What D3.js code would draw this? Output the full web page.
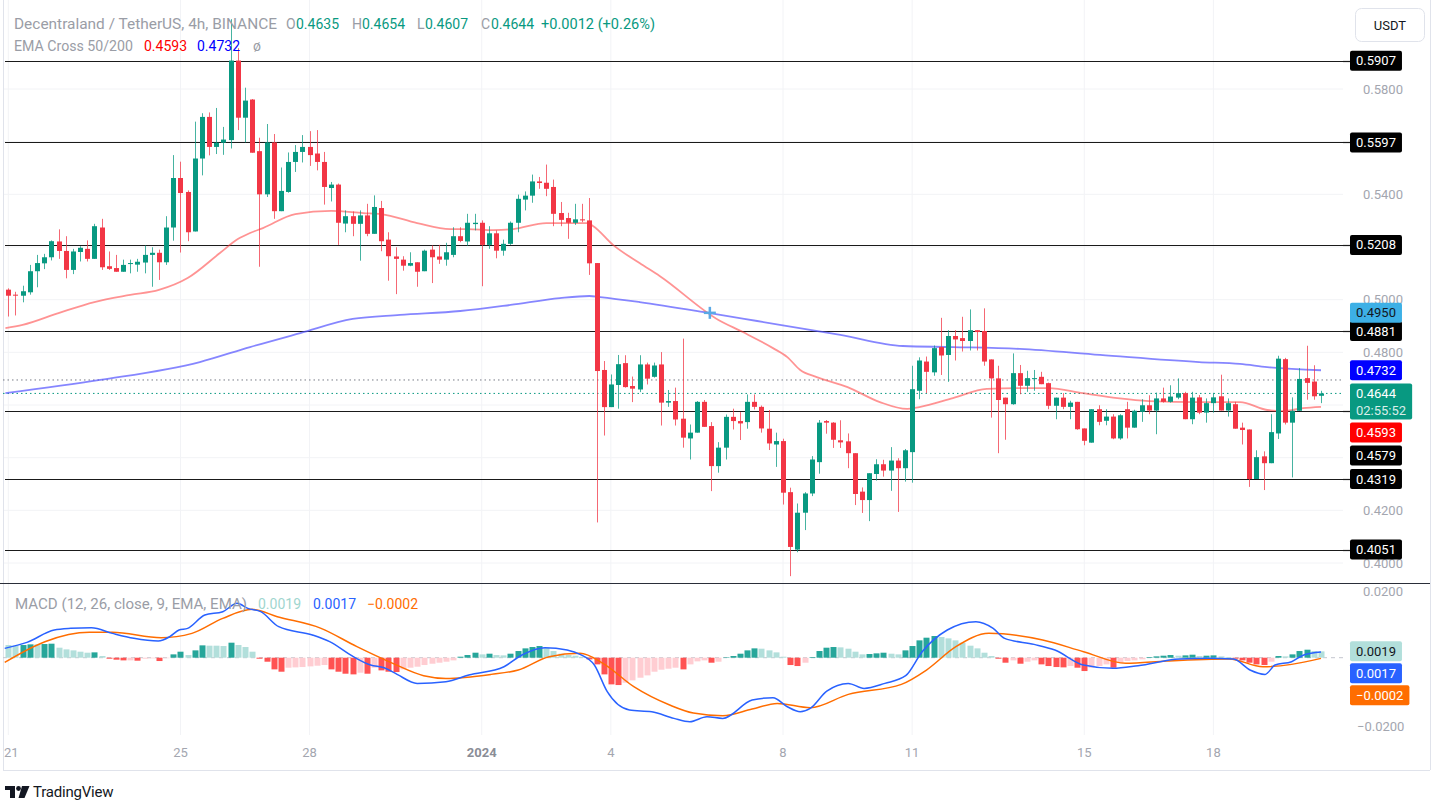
<!DOCTYPE html>
<html><head><meta charset="utf-8">
<script src="https://cdn.jsdelivr.net/npm/d3@7"></script>
<style>
html,body{margin:0;padding:0;background:#fff;}
svg{display:block;font-family:Roboto,"Noto Sans",sans-serif;}
</style>
</head><body>
<svg id="c" width="1435" height="802"></svg>
<script>
// ---------------- DATA ----------------
const opens = [.5038,.5019,.5015,.5028,.5108,.5138,.5161,.5221,.5185,.5113,.5181,.5193,.5155,.5274,.5127,.5120,.5106,.5136,.5133,.5141,
.5170,.5178,.5142,.5274,.5462,.5409,.5259,.5536,.5694,.5580,.5596,.5606,.5908,.5691,.5760,.5564,.5400,.5597,.5336,.5409,
.5523,.5561,.5580,.5555,.5523,.5424,.5437,.5289,.5317,.5288,.5320,.5250,.5348,.5228,.5164,.5152,.5129,.5142,.5108,.5190,
.5164,.5152,.5170,.5241,.5221,.5287,.5292,.5208,.5252,.5186,.5212,.5292,.5380,.5395,.5449,.5444,.5428,.5329,.5310,.5292,
.5305,.5301,.5139,.4733,.4592,.4676,.4759,.4672,.4659,.4754,.4707,.4754,.4609,.4615,.4548,.4473,.4495,.4612,.4520,.4368,
.4438,.4555,.4539,.4535,.4612,.4593,.4510,.4450,.4463,.4269,.4051,.4191,.4264,.4383,.4539,.4533,.4466,.4462,.4417,.4271,
.4239,.4338,.4375,.4351,.4389,.4360,.4421,.4654,.4765,.4724,.4820,.4790,.4862,.4854,.4843,.4884,.4881,.4773,.4701,.4628,
.4603,.4721,.4673,.4700,.4707,.4683,.4597,.4628,.4593,.4612,.4511,.4457,.4584,.4540,.4556,.4473,.4584,.4514,.4574,.4599,
.4579,.4625,.4612,.4628,.4645,.4546,.4629,.4571,.4607,.4633,.4579,.4603,.4514,.4507,.4319,.4405,.4379,.4492,.4774,.4533,
.4578,.4702,.4689,.4635];
const highs = [.5043,.5030,.5053,.5132,.5170,.5174,.5225,.5267,.5241,.5193,.5203,.5225,.5288,.5307,.5183,.5170,.5152,.5152,.5155,.5206,
.5199,.5190,.5317,.5549,.5524,.5415,.5676,.5708,.5711,.5728,.5656,.6065,.5955,.5805,.5762,.5615,.5667,.5629,.5502,.5559,
.5587,.5625,.5640,.5644,.5561,.5447,.5441,.5339,.5335,.5339,.5364,.5396,.5375,.5256,.5199,.5165,.5180,.5142,.5190,.5206,
.5208,.5216,.5275,.5275,.5326,.5326,.5301,.5279,.5263,.5228,.5297,.5399,.5411,.5475,.5466,.5513,.5456,.5371,.5330,.5364,
.5364,.5386,.5139,.4767,.4716,.4790,.4789,.4708,.4789,.4761,.4761,.4801,.4657,.4666,.4852,.4526,.4615,.4619,.4535,.4459,
.4564,.4586,.4573,.4640,.4640,.4598,.4581,.4495,.4472,.4286,.4226,.4269,.4406,.4543,.4543,.4535,.4542,.4492,.4417,.4287,
.4341,.4394,.4392,.4440,.4398,.4433,.4749,.4781,.4784,.4826,.4931,.4884,.4884,.4935,.4963,.4884,.4967,.4773,.4749,.4628,
.4796,.4752,.4730,.4733,.4726,.4685,.4628,.4645,.4616,.4612,.4511,.4584,.4599,.4584,.4565,.4565,.4612,.4582,.4622,.4637,
.4647,.4666,.4675,.4701,.4650,.4650,.4638,.4625,.4646,.4715,.4625,.4612,.4533,.4507,.4428,.4424,.4565,.4787,.4779,.4629,
.4740,.4825,.4751,.4654];
const lows = [.4936,.4940,.4990,.5019,.5047,.5116,.5149,.5155,.5081,.5097,.5145,.5145,.5155,.5113,.5113,.5106,.5106,.5100,.5106,.5100,
.5049,.5075,.5132,.5224,.5179,.5222,.5259,.5472,.5548,.5553,.5550,.5574,.5644,.5597,.5558,.5125,.5390,.5307,.5336,.5406,
.5485,.5521,.5508,.5491,.5361,.5373,.5208,.5256,.5241,.5148,.5241,.5250,.5184,.5072,.5021,.5110,.5127,.5049,.5108,.5063,
.5136,.5129,.5161,.5218,.5205,.5263,.5051,.5193,.5157,.5167,.5208,.5256,.5339,.5368,.5421,.5393,.5279,.5279,.5231,.5284,
.5294,.5094,.4154,.4484,.4592,.4586,.4666,.4611,.4649,.4678,.4704,.4522,.4593,.4522,.4438,.4393,.4495,.4517,.4273,.4343,
.4393,.4507,.4467,.4510,.4583,.4495,.4429,.4365,.4222,.3950,.4041,.4125,.4254,.4339,.4491,.4437,.4437,.4360,.4220,.4190,
.4159,.4313,.4328,.4274,.4194,.4309,.4305,.4622,.4645,.4711,.4714,.4688,.4769,.4803,.4807,.4807,.4749,.4552,.4417,.4468,
.4601,.4641,.4650,.4654,.4679,.4584,.4546,.4584,.4546,.4506,.4447,.4457,.4523,.4523,.4470,.4468,.4473,.4514,.4536,.4565,
.4489,.4609,.4609,.4622,.4546,.4527,.4565,.4533,.4571,.4579,.4556,.4510,.4450,.4289,.4319,.4277,.4379,.4471,.4526,.4325,
.4578,.4620,.4620,.4607];
const closes = [.5015,.5017,.5032,.5108,.5139,.5161,.5222,.5185,.5113,.5183,.5197,.5155,.5279,.5123,.5117,.5106,.5132,.5139,.5144,.5170,
.5178,.5142,.5274,.5462,.5405,.5256,.5536,.5694,.5580,.5596,.5608,.5908,.5691,.5756,.5558,.5400,.5597,.5336,.5413,.5523,
.5561,.5580,.5549,.5523,.5428,.5437,.5292,.5317,.5288,.5320,.5250,.5352,.5222,.5165,.5155,.5129,.5139,.5106,.5186,.5161,
.5152,.5180,.5241,.5223,.5292,.5292,.5208,.5252,.5186,.5212,.5292,.5383,.5395,.5449,.5443,.5421,.5326,.5303,.5292,.5305,
.5301,.5138,.4729,.4592,.4678,.4755,.4668,.4662,.4754,.4700,.4750,.4609,.4615,.4545,.4476,.4495,.4612,.4517,.4368,.4438,
.4555,.4539,.4530,.4612,.4593,.4511,.4454,.4463,.4267,.4061,.4191,.4264,.4393,.4533,.4533,.4468,.4458,.4417,.4262,.4239,
.4341,.4375,.4351,.4389,.4360,.4428,.4660,.4769,.4726,.4816,.4788,.4862,.4849,.4843,.4884,.4877,.4765,.4701,.4619,.4603,
.4721,.4673,.4702,.4702,.4679,.4597,.4628,.4593,.4609,.4508,.4464,.4584,.4536,.4556,.4473,.4561,.4514,.4578,.4599,.4579,
.4625,.4612,.4632,.4645,.4546,.4628,.4571,.4607,.4629,.4579,.4607,.4510,.4505,.4319,.4402,.4379,.4497,.4776,.4533,.4578,
.4699,.4684,.4633,.4644];

// EMA 50 / EMA 200 (candle index, value)
const ema50Idx  = [-0.4,2,7,12,17,21,25,29.5,32,33.7,35.5,40,45,49.5,52,57,61.6,64,67.6,70.4,75,80.7,81.5,84.3,88,90.8,99,102.4,106.6,108.6,110.4,112.7,117,121.5,125.3,127,131.7,136.4,141,145,149.8,154.6,159,166,171.7,175.5,177.7,180.5,183];
const ema50Vals = [.4892,.4904,.4949,.4991,.5018,.5037,.5082,.5177,.5230,.5253,.5272,.5325,.5337,.5329,.5325,.5291,.5268,.5268,.5264,.5268,.5291,.5291,.5280,.5208,.5139,.5090,.4923,.4877,.4816,.4782,.4733,.4706,.4668,.4611,.4585,.4592,.4626,.4661,.4664,.4664,.4645,.4626,.4615,.4611,.4611,.4581,.4577,.4588,.4593];
const ema200Idx  = [-0.4,12.8,26.7,33.7,40.7,48,54.6,63,70,76.9,81,82.5,88,97.8,104.4,116,124.7,131.7,141,152.2,166,171.7,175.5,183];
const ema200Vals = [.4645,.4695,.4763,.4820,.4873,.4927,.4942,.4957,.4980,.5006,.5014,.5010,.4991,.4949,.4919,.4866,.4824,.4820,.4813,.4790,.4763,.4756,.4744,.4732];

// MACD (12,26,9) lines
const macdIdx  = [-0.5,2.6,6.4,8.7,11.6,14.5,17.5,20.9,22.5,23.8,25,27.4,29.9,31.9,33.4,35.2,37.7,42.4,44.8,48.1,50.5,52.4,54.2,57,61,64.2,69.1,71.6,74.8,77.9,79.7,81.7,83.5,86.6,89.7,92.8,95,97.4,99.6,103.7,106.6,108.6,110.4,111.8,114.1,117.1,119.3,122.2,125.1,127.4,130.9,134.9,137.3,138.9,143,145.9,149.9,154,157.5,163.3,167.4,170.8,173.1,175.2,176.6,178.9,180.6,183];
const macdVals = [.0028,.0046,.0083,.0088,.0090,.0073,.0058,.0050,.0063,.0083,.0088,.0128,.0138,.0163,.0148,.0138,.0093,.0068,.0048,.0003,-.0022,-.0030,-.0050,-.0077,-.0072,-.0052,-.0027,.0008,.0030,.0023,.0010,-.0022,-.0102,-.0157,-.0162,-.0182,-.0192,-.0177,-.0182,-.0127,-.0120,-.0147,-.0162,-.0152,-.0100,-.0077,-.0092,-.0077,-.0054,.0018,.0083,.0108,.0088,.0058,.0040,.0023,-.0022,-.0032,-.0024,-.0004,-.0002,-.0004,-.0037,-.0050,-.0022,-.0012,.0008,.0017];
const signalIdx  = [-0.5,5.1,11.3,14.5,21.3,25.6,29.9,34,37.5,43.6,48.6,53.6,57.9,61,67.3,71.1,75.4,79.7,82.9,87.2,92.2,95.5,99.6,103.7,107.2,111.8,117.1,124.5,128,132.1,136.7,144.2,149.9,155.8,161.5,170.2,174.9,178.9,183];
const signalVals = [-.0014,.0048,.0076,.0076,.0060,.0073,.0118,.0145,.0123,.0088,.0033,-.0017,-.0054,-.0062,-.0050,-.0037,.0003,.0013,-.0017,-.0087,-.0142,-.0166,-.0174,-.0154,-.0137,-.0150,-.0110,-.0080,-.0037,.0033,.0073,.0053,.0018,-.0017,-.0010,-.0004,-.0027,-.0020,-.0002];
const histVals = [.0038,.0036,.0038,.0040,.0040,.0041,.0042,.0030,.0025,.0022,.0018,.0015,.0016,.0005,-.0003,-.0006,-.0008,-.0008,-.0009,-.0003,
-.0002,-.0010,-.0001,.0010,.0018,.0008,.0022,.0037,.0036,.0036,.0035,.0045,.0038,.0032,.0018,-.0003,-.0012,-.0035,-.0042,-.0030,
-.0029,-.0028,-.0026,-.0024,-.0022,-.0035,-.0042,-.0048,-.0050,-.0045,-.0048,-.0030,-.0038,-.0042,-.0043,-.0035,-.0030,-.0027,-.0022,-.0018,
-.0015,-.0012,-.0008,.0003,.0008,.0015,.0010,.0012,.0008,.0007,.0012,.0020,.0028,.0032,.0035,.0030,.0020,.0012,.0008,.0006,
.0003,-.0005,-.0020,-.0050,-.0080,-.0082,-.0075,-.0068,-.0060,-.0053,-.0042,-.0036,-.0033,-.0030,-.0035,-.0020,-.0011,-.0008,-.0015,-.0012,
.0001,.0005,.0012,.0022,.0028,.0027,.0022,.0016,.0003,-.0022,-.0025,-.0015,.0002,.0020,.0030,.0032,.0031,.0027,.0018,.0010,
.0011,.0013,.0015,.0012,.0010,.0022,.0035,.0052,.0060,.0065,.0062,.0058,.0052,.0045,.0036,.0028,.0015,.0005,-.0003,-.0015,
-.0008,-.0018,-.0012,-.0008,-.0020,-.0025,-.0028,-.0029,-.0025,-.0030,-.0040,-.0030,-.0025,-.0020,-.0030,-.0015,-.0010,-.0008,-.0005,.0002,
.0004,.0006,.0008,.0006,.0007,.0009,.0005,.0006,.0007,.0004,.0002,-.0003,-.0008,-.0015,-.0020,-.0022,-.0012,.0005,.0004,.0010,
.0020,.0024,.0020,.0019];

// horizontal support / resistance levels
const levels = [0.5907,0.5597,0.5208,0.4881,0.4579,0.4319,0.4051];
const priceTicks = [0.40,0.42,0.44,0.46,0.48,0.50,0.52,0.54,0.56,0.58];
const macdTicks = [0.02,-0.02];
const dayTickIdx = [0,24,42,66,84,108,126,150,168];
const dayTickLabels = ["21","25","28","2024","4","8","11","15","18"];
const ema50Last = 0.4593, ema200Last = 0.4732, lastPrice = 0.4644, prevRefLine = 0.4695;
const crossPrice = 0.4950, crossIdx = 97.8;
const macdLast = 0.0017, signalLast = -0.0002, histLast = 0.0019;
const countdown = "02:55:52";

// ---------------- DRAW ----------------
const svg = d3.select('#c');
const C = {up:'#089981', down:'#F23645', grid:'#f2f3f6', axisText:'#a3a6af', legend:'#9a9da6'};
const x = d3.scaleLinear().domain([0,183]).range([8.3,1321]);
const y = d3.scaleLinear().domain([0.40,0.58]).range([563,89]);
const ym = d3.scaleLinear().domain([-0.02,0.02]).range([724.4,591]);
const PLOT_R = 1343;

const defs = svg.append('defs');
defs.append('clipPath').attr('id','mainClip').append('rect').attr('x',3).attr('y',0).attr('width',PLOT_R-3).attr('height',582);
defs.append('clipPath').attr('id','macdClip').append('rect').attr('x',3).attr('y',584).attr('width',PLOT_R-3).attr('height',150);

// grid
const grid = svg.append('g');
grid.selectAll('line.v').data(dayTickIdx).join('line')
  .attr('x1',d=>x(d)).attr('x2',d=>x(d)).attr('y1',0).attr('y2',735)
  .attr('stroke',C.grid).attr('stroke-width',1);
grid.selectAll('line.h').data(priceTicks).join('line')
  .attr('x1',3).attr('x2',PLOT_R).attr('y1',d=>y(d)).attr('y2',d=>y(d))
  .attr('stroke',C.grid).attr('stroke-width',1);

// frame
svg.append('line').attr('x1',3).attr('x2',1430).attr('y1',770.5).attr('y2',770.5).attr('stroke','#e0e3eb');
svg.append('line').attr('x1',1430.5).attr('x2',1430.5).attr('y1',0).attr('y2',770).attr('stroke','#e0e3eb');
svg.append('line').attr('x1',3.5).attr('x2',3.5).attr('y1',0).attr('y2',770).attr('stroke','#e0e3eb');
svg.append('line').attr('x1',0).attr('x2',1430).attr('y1',583.5).attr('y2',583.5).attr('stroke','#2a2e39').attr('stroke-width',1);

const main = svg.append('g').attr('clip-path','url(#mainClip)');

// support lines
main.selectAll('line.lvl').data(levels).join('line')
  .attr('x1',5).attr('x2',1352).attr('y1',d=>Math.round(y(d))+0.5).attr('y2',d=>Math.round(y(d))+0.5)
  .attr('stroke','#1a1a1a').attr('stroke-width',1.2);
svg.selectAll('line.lvlR').data(levels).join('line')
  .attr('x1',PLOT_R).attr('x2',1352).attr('y1',d=>Math.round(y(d))+0.5).attr('y2',d=>Math.round(y(d))+0.5)
  .attr('stroke','#1a1a1a').attr('stroke-width',1.2);

// dotted lines
main.append('line').attr('x1',3).attr('x2',PLOT_R).attr('y1',y(prevRefLine)).attr('y2',y(prevRefLine))
  .attr('stroke','#787b86').attr('stroke-width',1).attr('stroke-dasharray','1.5,3');
main.append('line').attr('x1',3).attr('x2',PLOT_R).attr('y1',y(lastPrice)).attr('y2',y(lastPrice))
  .attr('stroke',C.up).attr('stroke-width',1).attr('stroke-dasharray','1.5,3');

// EMA lines
const emaLine = d3.line().x(d=>x(d[0])).y(d=>y(d[1])).curve(d3.curveMonotoneX);
main.append('path').datum(d3.zip(ema200Idx,ema200Vals)).attr('d',emaLine)
  .attr('fill','none').attr('stroke','#5252ff').attr('stroke-opacity',0.7).attr('stroke-width',1.8);
main.append('path').datum(d3.zip(ema50Idx,ema50Vals)).attr('d',emaLine)
  .attr('fill','none').attr('stroke','#ff3b3b').attr('stroke-opacity',0.55).attr('stroke-width',1.8);

// candles
const candles = d3.range(closes.length).map(i=>({i,o:opens[i],h:highs[i],l:lows[i],c:closes[i]}));
const cg = main.append('g');
cg.selectAll('line.w').data(candles).join('line')
  .attr('x1',d=>Math.round(x(d.i))+0.5).attr('x2',d=>Math.round(x(d.i))+0.5)
  .attr('y1',d=>y(d.h)).attr('y2',d=>y(d.l))
  .attr('stroke',d=>d.c>=d.o?C.up:C.down).attr('stroke-opacity',0.75).attr('stroke-width',1);
cg.selectAll('rect.b').data(candles).join('rect')
  .attr('x',d=>Math.round(x(d.i))-2).attr('width',5)
  .attr('y',d=>y(Math.max(d.o,d.c))).attr('height',d=>Math.max(1,Math.abs(y(d.o)-y(d.c))))
  .attr('fill',d=>d.c>=d.o?C.up:C.down);

// crosshair marker
const cx = x(crossIdx), cy = y(crossPrice);
main.append('line').attr('x1',cx-6).attr('x2',cx+6).attr('y1',cy).attr('y2',cy).attr('stroke','#5aa9e6').attr('stroke-width',2.5);
main.append('line').attr('x1',cx).attr('x2',cx).attr('y1',cy-6).attr('y2',cy+6).attr('stroke','#5aa9e6').attr('stroke-width',2.5);

// ---- MACD pane ----
const mg = svg.append('g').attr('clip-path','url(#macdClip)');
mg.append('line').attr('x1',3).attr('x2',PLOT_R).attr('y1',ym(0)).attr('y2',ym(0))
  .attr('stroke','#c3c6ce').attr('stroke-width',1).attr('stroke-dasharray','4,4');
const histColor = (v,i)=>{
  const p = i>0 ? histVals[i-1] : Infinity;
  if (v>=0) return v>p ? '#26A69A' : '#B2DFDB';
  return v<p ? '#FF5252' : '#FFCDD2';
};
mg.selectAll('rect.h').data(histVals).join('rect')
  .attr('x',(d,i)=>Math.round(x(i))-2.5).attr('width',6)
  .attr('y',d=>Math.min(ym(d),ym(0))).attr('height',d=>Math.max(0.5,Math.abs(ym(d)-ym(0))))
  .attr('fill',(d,i)=>histColor(d,i));
const mline = d3.line().x(d=>x(d[0])).y(d=>ym(d[1])).curve(d3.curveMonotoneX);
mg.append('path').datum(d3.zip(signalIdx,signalVals)).attr('d',mline)
  .attr('fill','none').attr('stroke','#FF6D00').attr('stroke-width',1.5);
mg.append('path').datum(d3.zip(macdIdx,macdVals)).attr('d',mline)
  .attr('fill','none').attr('stroke','#2962FF').attr('stroke-width',1.5);

// ---- price axis labels (stacked boxes) ----
const fmt = d3.format('.4f');
const mfmt = v => (v<0?'\u2212':'') + d3.format('.4f')(Math.abs(v));
function stackLabels(list, gap){
  list.sort((a,b)=>a.y-b.y);
  let bottom = -Infinity;
  list.forEach(l=>{
    let top = l.y - (l.lines===2 ? 10 : l.h/2);
    if (top < bottom + gap) top = bottom + gap;
    l.top = top; bottom = top + l.h;
  });
  return list;
}
const priceLabels = levels.map(v=>({y:y(v),text:fmt(v),bg:'#000',fg:'#fff',h:20}));
priceLabels.push({y:y(ema200Last),text:fmt(ema200Last),bg:'#0000FF',fg:'#fff',h:20});
priceLabels.push({y:y(ema50Last),text:fmt(ema50Last),bg:'#FF0000',fg:'#fff',h:20});
priceLabels.push({y:y(lastPrice),text:fmt(lastPrice),text2:countdown,lines:2,bg:C.up,fg:'#fff',h:36});
stackLabels(priceLabels,3);
const crossLabel = {top:y(crossPrice)-10,text:fmt(crossPrice),bg:'#3db0e6',fg:'#131722',h:20};
const macdLabels = stackLabels([
  {y:ym(histLast),text:mfmt(histLast),bg:'#B2DFDB',fg:'#131722',h:20},
  {y:ym(macdLast)+0.1,text:mfmt(macdLast),bg:'#2962FF',fg:'#fff',h:20},
  {y:ym(signalLast),text:mfmt(signalLast),bg:'#FF6D00',fg:'#fff',h:20}
],2);

// tick labels hidden where a label box sits over them (as the reference does)
const hidden = t => priceLabels.some(l => y(t) > l.top - 3 && y(t) < l.top + l.h + 3);
svg.selectAll('text.pt').data(priceTicks.filter(t=>!hidden(t))).join('text')
  .attr('x',1363).attr('y',d=>y(d)).attr('dy','0.35em')
  .attr('font-size',13).attr('fill',C.axisText).text(fmt);
svg.selectAll('text.mt').data(macdTicks).join('text')
  .attr('x',d=>d<0?1357:1363).attr('y',d=>ym(d)+(d<0?2:0)).attr('dy','0.35em')
  .attr('font-size',13).attr('fill',C.axisText).text(mfmt);

function drawLabels(list){
  list.forEach(l=>{
    const g = svg.append('g');
    const t = g.append('text').attr('x',1356).attr('y',l.top+10).attr('dy','0.35em')
      .attr('font-size',13).attr('fill',l.fg).text(l.text);
    const w = t.node().getComputedTextLength();
    let w2 = 0;
    if (l.lines===2){
      const t2 = g.append('text').attr('x',1356).attr('y',l.top+27).attr('dy','0.35em')
        .attr('font-size',13).attr('fill',l.fg).attr('fill-opacity',0.85).text(l.text2);
      w2 = t2.node().getComputedTextLength();
    }
    g.insert('rect','text').attr('x',1350).attr('y',l.top).attr('width',Math.max(w,w2)+12).attr('height',l.h)
      .attr('rx',2).attr('fill',l.bg);
  });
}
drawLabels(priceLabels);
drawLabels([crossLabel]);
drawLabels(macdLabels);

// USDT box
svg.append('rect').attr('x',1355.5).attr('y',8.5).attr('width',69).attr('height',33).attr('rx',6)
  .attr('fill','#fff').attr('stroke','#e0e3eb');
svg.append('text').attr('x',1390).attr('y',25).attr('dy','0.35em').attr('text-anchor','middle')
  .attr('font-size',13).attr('fill','#131722').text('USDT');

// ---- time axis ----
svg.append('g').selectAll('text').data(dayTickIdx).join('text')
  .attr('x',d=>d===0?x(d)+3:x(d)).attr('y',752).attr('dy','0.35em').attr('text-anchor','middle')
  .attr('font-size',13).attr('fill',(d,i)=>dayTickLabels[i]==='2024'?'#8a8d96':C.axisText)
  .attr('font-weight',(d,i)=>dayTickLabels[i]==='2024'?'bold':'normal')
  .text((d,i)=>dayTickLabels[i]);

// ---- legends ----
function seg(g, parts, yy){
  parts.forEach(p=>{
    const t = g.append('text').attr('x',p[0]).attr('y',yy).attr('dy','0.35em')
      .attr('font-size',14).attr('fill',p[2]).text(p[1]);
    if (p[3]) t.attr('textLength',p[3]).attr('lengthAdjust','spacingAndGlyphs');
  });
}
const lg = svg.append('g');
const green = C.up;
seg(lg, [[14,'Decentraland / TetherUS, 4h, BINANCE',C.legend,263],
  [286,'O',C.legend],[296,fmt(opens[183]),green],
  [352,'H',C.legend],[362,fmt(highs[183]),green],
  [417,'L',C.legend],[425,fmt(lows[183]),green],
  [481,'C',C.legend],[491,fmt(closes[183]),green],
  [541,'+0.0012 (+0.26%)',green,114]], 24);
seg(lg, [[14,'EMA Cross 50/200',C.legend,119],[144,fmt(ema50Last),'#FF0000'],[197,fmt(ema200Last),'#0000FF'],[253,'\u00f8',C.legend]], 46);
seg(lg, [[15,'MACD (12, 26, close, 9, EMA, EMA)',C.legend,232],[258,mfmt(histLast),'#9fd6cf'],[313,mfmt(macdLast),'#2962FF'],[367,mfmt(signalLast),'#FF6D00']], 604);

// ---- TradingView logo ----
const logo = svg.append('g').attr('fill','#131722');
logo.append('path').attr('d','M5,786 h10 v12 h-5 v-8 h-5 z');
logo.append('circle').attr('cx',18.5).attr('cy',788.5).attr('r',2.4);
logo.append('path').attr('d','M22,786 h7.5 l-5,12 h-6 z');
svg.append('text').attr('x',33).attr('y',792).attr('dy','0.35em').attr('font-size',15)
  .attr('fill','#131722').attr('letter-spacing','-0.2').text('TradingView');
</script>
</body></html>
